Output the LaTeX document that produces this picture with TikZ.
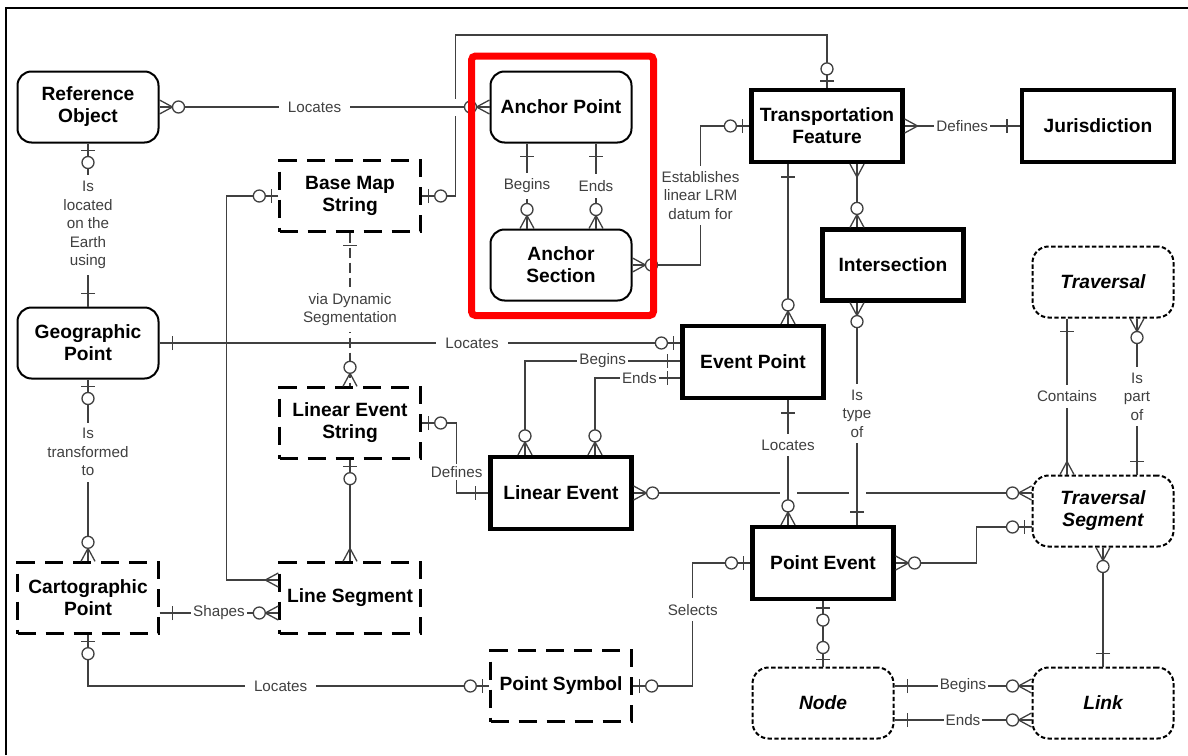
\documentclass[tikz,border=0pt]{standalone}
\usepackage{fontspec}
\setmainfont{Liberation Sans}
\usetikzlibrary{calc}

\tikzset{
  conn/.style={draw=black!75, line width=0.65pt},
  dashcon/.style={dash pattern=on 5pt off 2.5pt},
  hop/.style={preaction={draw=white, line width=8.5pt, shorten <=10pt, shorten >=10pt}},
  ent/.style={minimum width=70.5pt, minimum height=35.5pt, align=center, inner sep=1pt,
    font=\fontsize{9.6}{11}\selectfont\bfseries},
  roundent/.style={ent, draw, line width=1pt, rounded corners=7pt},
  boldent/.style={ent, draw, line width=2.1pt},
  dashent/.style={ent, draw, line width=1.2pt, dash pattern=on 9pt off 5pt},
  virtent/.style={ent, draw, line width=1pt, rounded corners=8pt, dash pattern=on 2.2pt off 1.2pt,
    font=\fontsize{9.6}{11}\selectfont\bfseries\itshape},
  lbl/.style={fill=white, inner xsep=1pt, inner ysep=1pt, align=center, text=black!75,
    font=\fontsize{7.6}{9.2}\selectfont},
  wlbl/.style={lbl, inner xsep=4.5pt},
  vlbl/.style={lbl, inner ysep=3pt},
  one/.pic={\draw[conn] (13,-7) -- (13,7);},
  zone/.pic={\draw[conn] (7,-7) -- (7,7); \draw[conn, fill=white] (19,0) circle (3pt);},
  many/.pic={\draw[conn] (0,7) -- (13,0) -- (0,-7);},
  zmany/.pic={\draw[conn] (0,7) -- (13,0) -- (0,-7); \draw[conn, fill=white] (19,0) circle (3pt);}
}

\begin{document}
\begin{tikzpicture}[x=0.5pt,y=0.5pt]
\useasboundingbox (0,0) rectangle (1188,-755);
\draw[line width=1pt] (6,-755) -- (6,-8) -- (1188,-8);
%Entities
\node[roundent] (refobj) at (88,-107) {Reference\\Object};
\node[roundent] (geopt) at (88,-343) {Geographic\\Point};
\node[dashent] (cartpt) at (88,-598) {Cartographic\\Point};
\node[dashent] (bms) at (350,-196) {Base Map\\String};
\node[dashent] (les) at (350,-423) {Linear Event\\String};
\node[dashent] (lineseg) at (350,-598) {Line Segment};
\node[dashent] (ptsym) at (561,-686) {Point Symbol};
\node[roundent] (anchorpt) at (561,-107) {Anchor Point};
\node[roundent] (anchorsec) at (561,-265) {Anchor\\Section};
\node[boldent, minimum width=75.5pt, minimum height=36pt] (tf) at (827,-126) {Transportation\\Feature};
\node[boldent, minimum width=76pt, minimum height=36pt] (juris) at (1098,-126) {Jurisdiction};
\node[boldent] (inter) at (893,-265) {Intersection};
\node[boldent, minimum height=36pt] (evpt) at (753,-362) {Event Point};
\node[boldent, minimum height=36pt] (linev) at (561,-493) {Linear Event};
\node[boldent, minimum height=36pt] (ptev) at (823,-563) {Point Event};
\node[virtent] (trav) at (1103,-282) {Traversal};
\node[virtent] (travseg) at (1103,-511) {Traversal\\Segment};
\node[virtent] (nd) at (823,-703) {Node};
\node[virtent] (link) at (1103,-703) {Link};
%Base Map String
\draw[conn] (bms.east) -- ++(34,0) |- ($(tf.north)+(0,53)$) -- (tf.north);
\draw[conn] (bms.west) -- ++(-52,0) |- ($(lineseg.west)+(0,18)$);
\draw[conn, dashcon] (bms.south) -- node[vlbl]{via Dynamic\\Segmentation} (les.north);
%Reference Object
\draw[conn, hop] (refobj.east) -- node[wlbl, pos=0.47]{Locates} (anchorpt.west);
\draw[conn] (refobj.south) -- node[vlbl]{Is\\located\\on the\\Earth\\using} (geopt.north);
%Geographic Point
\draw[conn] (geopt.east) -- node[wlbl, pos=0.6]{Locates} (geopt.east -| evpt.west);
\draw[conn] (geopt.south) -- node[vlbl, pos=0.4]{Is\\transformed\\to} (cartpt.north);
%Cartographic Point
\draw[conn] ($(cartpt.east)+(0,-15)$) -- node[lbl]{Shapes} ($(lineseg.west)+(0,-15)$);
\draw[conn] (cartpt.south) |- node[wlbl, pos=0.74]{Locates} (ptsym.west);
%Point Symbol
\draw[conn] (ptsym.east) -- ++(60,0) |- node[vlbl, pos=0.31]{Selects} (ptev.west);
%Linear Event String
\draw[conn] (les.east) -- ++(35,0) |- node[lbl, pos=0.35]{Defines} (linev.west);
\draw[conn] (les.south) -- (lineseg.north);
%Anchor Point
\draw[conn] ($(anchorpt.south)+(-34,0)$) -- node[vlbl]{Begins} ($(anchorsec.north)+(-34,0)$);
\draw[conn] ($(anchorpt.south)+(35,0)$) -- node[vlbl]{Ends} ($(anchorsec.north)+(35,0)$);
%Anchor Section
\draw[conn] (anchorsec.east) -- ++(68,0) |- node[vlbl, pos=0.25]{Establishes\\linear LRM\\datum for} (tf.west);
%Transportation Feature
\draw[conn] (tf.east) -- node[lbl]{Defines} (juris.west);
\draw[conn] ($(tf.south)+(-39,0)$) -- ($(evpt.north)+(35,0)$);
\draw[conn] ($(tf.south)+(30,0)$) -- ($(inter.north)+(-36,0)$);
%Linear Event
\draw[conn] (linev.east) -- ($(travseg.west)+(0,18)$);
%Intersection
\draw[conn, hop] ($(inter.south)+(-36,0)$) -- node[vlbl]{Is\\type\\of} ($(ptev.north)+(34,0)$);
%Event Point
\draw[conn] ($(evpt.west)+(0,1)$) -| node[lbl, pos=0.25]{Begins} ($(linev.north)+(-36,0)$);
\draw[conn] ($(evpt.west)+(0,-16)$) -| node[lbl, pos=0.24]{Ends} ($(linev.north)+(34,0)$);
\draw[conn, hop] ($(evpt.south)+(35,0)$) -- node[vlbl, pos=0.36]{Locates} ($(ptev.north)+(-35,0)$);
%Point Event
\draw[conn] (ptev.east) -- ++(81,0) |- ($(travseg.west)+(0,-16)$);
\draw[conn] (ptev.south) -- (nd.north);
%Traversal
\draw[conn] ($(trav.south)+(-36,0)$) -- node[vlbl]{Contains} ($(travseg.north)+(-36,0)$);
\draw[conn] ($(trav.south)+(34,0)$) -- node[vlbl]{Is\\part\\of} ($(travseg.north)+(34,0)$);
\draw[conn] (travseg.south) -- (link.north);
%Node
\draw[conn] ($(nd.east)+(0,17)$) -- node[lbl]{Begins} ($(link.west)+(0,17)$);
\draw[conn] ($(nd.east)+(0,-17)$) -- node[lbl]{Ends} ($(link.west)+(0,-17)$);
%Markers
\pic at (refobj.east) {zmany};
\pic[rotate=180] at (anchorpt.west) {zmany};
\pic[rotate=-90] at (refobj.south) {zone};
\pic[rotate=90] at (geopt.north) {one};
\pic at (geopt.east) {one};
\pic[rotate=180] at ($(evpt.west)+(0,19)$) {zone};
\pic[rotate=-90] at (geopt.south) {zone};
\pic[rotate=90] at (cartpt.north) {zmany};
\pic at ($(cartpt.east)+(0,-15)$) {one};
\pic[rotate=180] at ($(lineseg.west)+(0,-15)$) {zmany};
\pic[rotate=-90] at (cartpt.south) {zone};
\pic[rotate=180] at (ptsym.west) {zone};
\pic at (ptsym.east) {zone};
\pic[rotate=180] at (ptev.west) {zone};
\pic[rotate=180] at (bms.west) {zone};
\pic[rotate=180] at ($(lineseg.west)+(0,18)$) {many};
\pic at (bms.east) {zone};
\pic[rotate=90] at (tf.north) {zone};
\pic[rotate=-90] at (bms.south) {one};
\pic[rotate=90] at (les.north) {zmany};
\pic at (les.east) {zone};
\pic[rotate=180] at (linev.west) {one};
\pic[rotate=-90] at (les.south) {zone};
\pic[rotate=90] at (lineseg.north) {many};
\pic[rotate=-90] at ($(anchorpt.south)+(-34,0)$) {one};
\pic[rotate=-90] at ($(anchorpt.south)+(35,0)$) {one};
\pic[rotate=90] at ($(anchorsec.north)+(-34,0)$) {zmany};
\pic[rotate=90] at ($(anchorsec.north)+(35,0)$) {zmany};
\pic at (anchorsec.east) {zmany};
\pic[rotate=180] at (tf.west) {zone};
\pic at (tf.east) {many};
\pic[rotate=180] at (juris.west) {one};
\pic[rotate=-90] at ($(tf.south)+(-39,0)$) {one};
\pic[rotate=90] at ($(evpt.north)+(35,0)$) {zmany};
\pic[rotate=-90] at ($(tf.south)+(30,0)$) {many};
\pic[rotate=90] at ($(inter.north)+(-36,0)$) {zmany};
\pic[rotate=-90] at ($(inter.south)+(-36,0)$) {zmany};
\pic[rotate=90] at ($(ptev.north)+(34,0)$) {one};
\pic[rotate=180] at ($(evpt.west)+(0,1)$) {one};
\pic[rotate=180] at ($(evpt.west)+(0,-16)$) {one};
\pic[rotate=90] at ($(linev.north)+(-36,0)$) {zmany};
\pic[rotate=90] at ($(linev.north)+(34,0)$) {zmany};
\pic[rotate=-90] at ($(evpt.south)+(35,0)$) {one};
\pic[rotate=90] at ($(ptev.north)+(-35,0)$) {zmany};
\pic at (linev.east) {zmany};
\pic[rotate=180] at ($(travseg.west)+(0,18)$) {zmany};
\pic at (ptev.east) {zmany};
\pic[rotate=180] at ($(travseg.west)+(0,-16)$) {zone};
\pic[rotate=-90] at ($(trav.south)+(-36,0)$) {one};
\pic[rotate=90] at ($(travseg.north)+(-36,0)$) {many};
\pic[rotate=-90] at ($(trav.south)+(34,0)$) {zmany};
\pic[rotate=90] at ($(travseg.north)+(34,0)$) {one};
\pic[rotate=-90] at (travseg.south) {zmany};
\pic[rotate=90] at (link.north) {one};
\pic[rotate=-90] at (ptev.south) {zone};
\pic[rotate=90] at (nd.north) {zone};
\pic at ($(nd.east)+(0,17)$) {one};
\pic[rotate=180] at ($(link.west)+(0,17)$) {zmany};
\pic at ($(nd.east)+(0,-17)$) {one};
\pic[rotate=180] at ($(link.west)+(0,-17)$) {zmany};
%Highlight
\draw[red, line width=3.5pt, rounded corners=2pt] (471.5,-56) rectangle (653.5,-315.5);
\end{tikzpicture}
\end{document}
